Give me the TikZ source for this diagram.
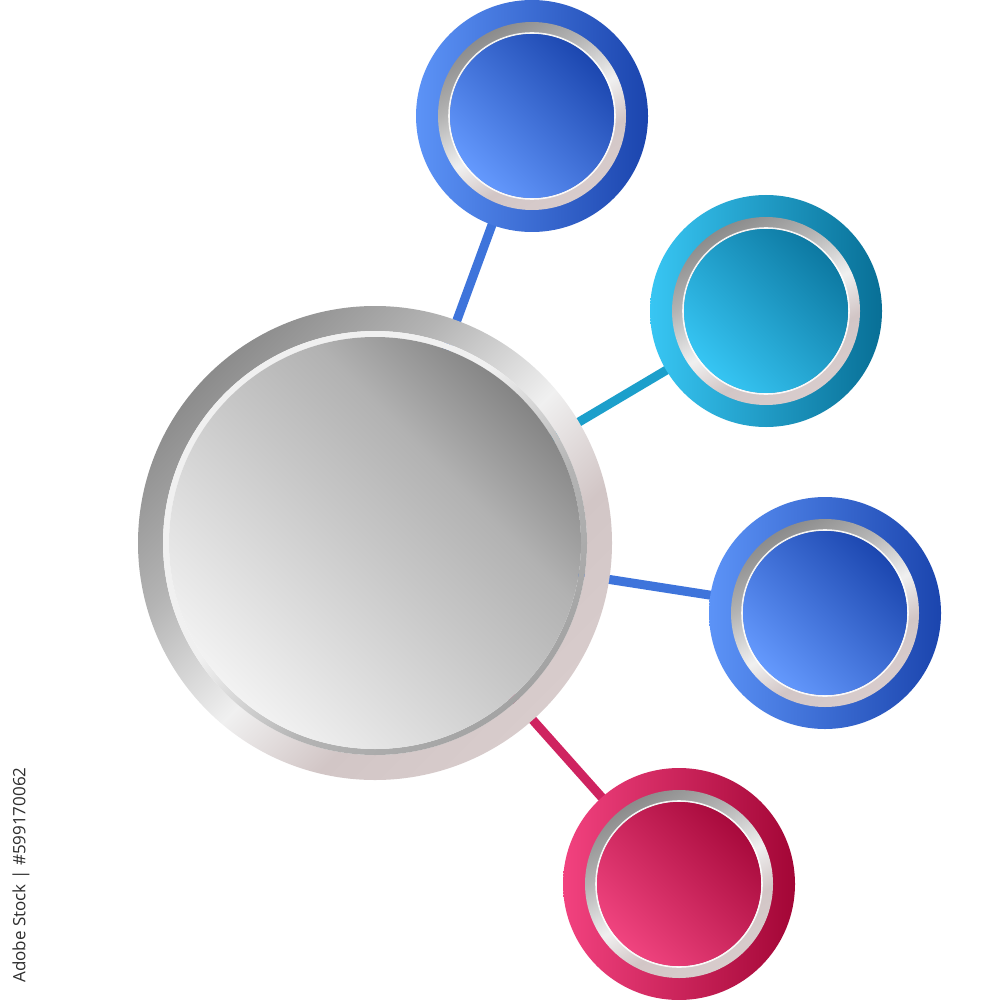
\documentclass[tikz,border=0pt]{standalone}
\usepackage{fontspec}
\newfontfamily\wmfont{Open Sans}
\definecolor{mA}{HTML}{8C8C8C}
\definecolor{mB}{HTML}{B4B4B4}
\definecolor{mC}{HTML}{F0F0F0}
\definecolor{mD}{HTML}{D2C6C6}
\definecolor{mE}{HTML}{D8CCCC}
\definecolor{hL}{HTML}{F2F2F2}
\definecolor{hM}{HTML}{C6C6C6}
\definecolor{hM2}{HTML}{B2B2B2}
\definecolor{hD}{HTML}{858585}
\pgfdeclarehorizontalshading{metal}{100bp}{color(0bp)=(mA); color(25bp)=(mA); color(38bp)=(mB); color(52bp)=(mC); color(63bp)=(mD); color(75bp)=(mE); color(100bp)=(mE)}
\pgfdeclarehorizontalshading{metalrev}{100bp}{color(0bp)=(mC); color(25bp)=(mC); color(45bp)=(mC); color(60bp)=(mB); color(75bp)=(mA!80!white); color(100bp)=(mA!80!white)}
\pgfdeclarehorizontalshading{hubdisc}{100bp}{color(0bp)=(hL); color(25bp)=(hL); color(50bp)=(hM); color(62bp)=(hM2); color(75bp)=(hD); color(100bp)=(hD)}
\definecolor{bL}{HTML}{5C93F7}
\definecolor{bM}{HTML}{3C71DC}
\definecolor{bR}{HTML}{1B45AE}
\definecolor{biD}{HTML}{1C47B0}
\definecolor{biM}{HTML}{3D72DC}
\definecolor{biL}{HTML}{6499FD}
\definecolor{cL}{HTML}{38C6F3}
\definecolor{cM}{HTML}{20A3D0}
\definecolor{cR}{HTML}{086F96}
\definecolor{ciD}{HTML}{0D79A2}
\definecolor{ciM}{HTML}{1FA2D0}
\definecolor{ciL}{HTML}{36C5F3}
\definecolor{pL}{HTML}{F2427F}
\definecolor{pM}{HTML}{D02260}
\definecolor{pR}{HTML}{A30636}
\definecolor{piD}{HTML}{A80A3C}
\definecolor{piM}{HTML}{D22562}
\definecolor{piL}{HTML}{F0447F}
\definecolor{lnB}{HTML}{3E74DB}
\definecolor{lnC}{HTML}{1C9FCB}
\definecolor{lnP}{HTML}{CF2360}
\definecolor{wm}{HTML}{2E2E2E}
\tikzset{
  hubnode/.style={circle, minimum size=474pt, inner sep=0pt},
  satnode/.style={circle, minimum size=232pt, inner sep=0pt},
  link/.style={line width=9pt},
}
\newcommand{\satellite}[7]{%
  % #1 node name, #2 outer left, #3 outer mid, #4 outer right, #5 inner dark, #6 inner mid, #7 inner light
  \shade[left color=#2, middle color=#3, right color=#4] (#1.center) circle (116pt);
  \shade[even odd rule, shading=metal, shading angle=-60] (#1.center) circle (94pt) (#1.center) circle (82pt);
  \draw[white, line width=1.6pt, opacity=0.9] (#1.center) circle (83pt);
  \shade[top color=#5, middle color=#6, bottom color=#7, shading angle=-45] (#1.center) circle (82pt);
}
\begin{document}
\begin{tikzpicture}[x=1pt,y=-1pt]
\useasboundingbox (0,0) rectangle (1000,1000);
\fill[white] (0,0) rectangle (1000,1000);
\node[hubnode] (hub) at (375,543) {};
\node[satnode] (s1) at (532,116) {};
\node[satnode] (s2) at (766,311) {};
\node[satnode] (s3) at (825,613) {};
\node[satnode] (s4) at (679,884) {};
% connectors
\draw[link, lnB] (hub.center) -- (s1.center);
\draw[link, lnC] (hub.center) -- (s2.center);
\draw[link, lnB] (hub.center) -- (s3.center);
\draw[link, lnP] (hub.center) -- (s4.center);
% hub
\shade[even odd rule, shading=metal, shading angle=-45] (hub.center) circle (237pt) (hub.center) circle (212pt);
\shade[even odd rule, shading=metalrev, shading angle=-45] (hub.center) circle (212pt) (hub.center) circle (206pt);
\shade[shading=hubdisc, shading angle=45] (hub.center) circle (206pt);
% satellites
\satellite{s1}{bL}{bM}{bR}{biD}{biM}{biL}
\satellite{s2}{cL}{cM}{cR}{ciD}{ciM}{ciL}
\satellite{s3}{bL}{bM}{bR}{biD}{biM}{biL}
\satellite{s4}{pL}{pM}{pR}{piD}{piM}{piL}
% watermark text
\node[rotate=90, text=wm, font=\wmfont\fontsize{17}{19}\selectfont, inner sep=0pt] (wmtext) at (21,875) {Adobe Stock | \#599170062};
\end{tikzpicture}
\end{document}
